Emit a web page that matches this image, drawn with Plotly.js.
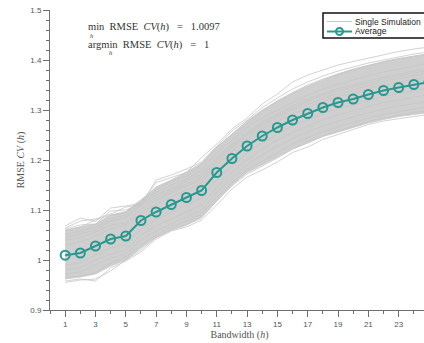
<!DOCTYPE html>
<html>
<head>
<meta charset="utf-8">
<script src="https://cdn.plot.ly/plotly-3.0.1.min.js"></script>
<style>
html,body{margin:0;padding:0;overflow:hidden;background:#fff;}
#chart{width:440px;height:343px;}
</style>
</head>
<body>
<div id="chart"></div>
<script>
// Bandwidth values
const bandwidth = [1,2,3,4,5,6,7,8,9,10,11,12,13,14,15,16,17,18,19,20,21,22,23,24,25];
// Average RMSE CV(h)
const average = [1.0097,1.014,1.028,1.042,1.048,1.079,1.096,1.111,1.125,1.139,1.175,1.203,1.228,1.248,1.265,1.280,1.293,1.305,1.315,1.322,1.331,1.339,1.345,1.351,1.356];
// dense region of the simulation bundle
const bundleHigh = [1.060,1.066,1.072,1.090,1.097,1.120,1.146,1.160,1.176,1.194,1.226,1.252,1.278,1.300,1.318,1.334,1.348,1.360,1.372,1.382,1.390,1.397,1.403,1.408,1.412];
const bundleLow  = [0.962,0.966,0.972,0.988,1.000,1.024,1.045,1.060,1.070,1.086,1.118,1.150,1.175,1.190,1.206,1.222,1.234,1.247,1.256,1.265,1.274,1.281,1.287,1.291,1.295];
// individual simulation curves
const sim01 = [1.068,1.084,1.077,1.104,1.108,1.114,1.155,1.165,1.175,1.205,1.232,1.262,1.284,1.312,1.332,1.356,1.370,1.380,1.390,1.397,1.404,1.410,1.417,1.422,1.426];
const sim02 = [1.062,1.070,1.072,1.098,1.100,1.112,1.140,1.158,1.168,1.190,1.225,1.250,1.272,1.296,1.318,1.335,1.350,1.362,1.372,1.380,1.388,1.396,1.402,1.408,1.412];
const sim03 = [1.058,1.066,1.080,1.090,1.094,1.120,1.135,1.150,1.162,1.180,1.215,1.240,1.265,1.285,1.300,1.316,1.330,1.342,1.352,1.360,1.368,1.376,1.382,1.388,1.393];
const sim04 = [1.050,1.058,1.066,1.082,1.090,1.112,1.130,1.142,1.158,1.172,1.205,1.232,1.255,1.276,1.292,1.308,1.322,1.333,1.343,1.350,1.358,1.366,1.372,1.378,1.383];
const sim05 = [1.040,1.044,1.056,1.070,1.074,1.102,1.120,1.134,1.148,1.160,1.196,1.224,1.248,1.268,1.285,1.300,1.312,1.323,1.333,1.340,1.349,1.357,1.363,1.369,1.374];
const sim06 = [1.030,1.036,1.048,1.062,1.070,1.095,1.112,1.126,1.140,1.154,1.190,1.218,1.242,1.262,1.278,1.292,1.305,1.317,1.327,1.334,1.343,1.350,1.356,1.362,1.366];
const sim07 = [0.990,0.994,1.010,1.024,1.030,1.062,1.080,1.096,1.110,1.124,1.160,1.188,1.214,1.234,1.252,1.268,1.281,1.293,1.303,1.310,1.319,1.327,1.333,1.339,1.344];
const sim08 = [0.980,0.985,1.000,1.012,1.020,1.050,1.068,1.082,1.096,1.110,1.146,1.176,1.200,1.222,1.240,1.255,1.268,1.280,1.290,1.298,1.307,1.315,1.320,1.326,1.331];
const sim09 = [0.972,0.976,0.990,1.004,1.012,1.040,1.058,1.072,1.086,1.100,1.136,1.165,1.190,1.210,1.228,1.243,1.256,1.268,1.278,1.286,1.295,1.302,1.308,1.313,1.318];
const sim10 = [0.965,0.968,0.975,0.994,1.006,1.030,1.050,1.066,1.078,1.092,1.126,1.155,1.180,1.198,1.215,1.232,1.244,1.257,1.266,1.275,1.284,1.291,1.297,1.302,1.306];
const sim11 = [0.958,0.962,0.958,0.984,0.998,1.016,1.042,1.058,1.066,1.080,1.110,1.142,1.166,1.180,1.196,1.215,1.226,1.241,1.251,1.261,1.271,1.278,1.283,1.287,1.291];
const sim12 = [0.955,0.960,0.962,0.978,1.000,1.020,1.045,1.060,1.070,1.084,1.118,1.148,1.172,1.188,1.204,1.222,1.234,1.248,1.258,1.268,1.277,1.284,1.290,1.295,1.299];
const sim13 = [1.064,1.078,1.082,1.092,1.106,1.110,1.160,1.170,1.182,1.196,1.228,1.258,1.280,1.305,1.324,1.342,1.356,1.368,1.378,1.386,1.394,1.400,1.406,1.412,1.416];
const sim14 = [1.045,1.052,1.060,1.078,1.085,1.108,1.125,1.138,1.152,1.166,1.200,1.228,1.252,1.272,1.289,1.304,1.318,1.329,1.339,1.346,1.354,1.362,1.368,1.374,1.379];
const simulations = [sim01,sim02,sim03,sim04,sim05,sim06,sim07,sim08,sim09,sim10,sim11,sim12,sim13,sim14];
const xTickVals = [1,3,5,7,9,11,13,15,17,19,21,23];
const yTickVals = [0.9,1,1.1,1.2,1.3,1.4,1.5];
const yTickText = ['0.9','1','1.1','1.2','1.3','1.4','1.5'];

const grayLine = '#c6c6c6';
const grayFill = '#cfcfcf';
const teal = '#2b9890';
const axisCol = '#6e6e6e';

const traces = [];
traces.push({x: bandwidth, y: bundleLow, mode:'lines', line:{color:grayLine, width:0.8}, hoverinfo:'skip', showlegend:false});
traces.push({x: bandwidth, y: bundleHigh, mode:'lines', fill:'tonexty', fillcolor:grayFill, line:{color:grayLine, width:0.8}, hoverinfo:'skip', showlegend:false});
simulations.forEach(s => traces.push({x: bandwidth, y: s, mode:'lines', line:{color:grayLine, width:0.8}, hoverinfo:'skip', showlegend:false}));
traces.push({x: bandwidth, y: average, mode:'lines+markers', line:{color:teal, width:2},
  marker:{symbol:'circle-open', size:9, color:teal, line:{width:2, color:teal}}, showlegend:false});

const serif = '"Liberation Serif", "DejaVu Serif", serif';
const sans = '"Liberation Sans", Arial, sans-serif';
const pw = 379, ph = 300, ml = 50, mt = 10;
const px = v => (v - ml) / pw;
const py = v => 1 - (v - mt) / ph;

const layout = {
  width: 440, height: 343,
  margin: {l: ml, r: 440 - ml - pw, t: mt, b: 343 - mt - ph},
  paper_bgcolor: '#fff', plot_bgcolor: '#fff',
  showlegend: false,
  xaxis: {
    range: [0, 25], showgrid: false, zeroline: false,
    showline: true, linecolor: axisCol, linewidth: 1,
    tickmode: 'array', tickvals: xTickVals, ticks: 'outside', ticklen: 6, tickwidth: 1, tickcolor: axisCol,
    minor: {dtick: 1, tick0: 0, ticks: 'outside', ticklen: 3, tickcolor: axisCol, showgrid: false},
    tickfont: {family: sans, size: 8, color: '#555'},
    title: {text: 'Bandwidth (<i>h</i>)', font: {family: serif, size: 10, color: '#555'}, standoff: 3}
  },
  yaxis: {
    range: [0.9, 1.5], showgrid: false, zeroline: false,
    showline: true, linecolor: axisCol, linewidth: 1,
    tickmode: 'array', tickvals: yTickVals, ticktext: yTickText, ticks: 'outside', ticklen: 6, tickwidth: 1, tickcolor: axisCol,
    minor: {dtick: 0.02, tick0: 0.9, ticks: 'outside', ticklen: 3, tickcolor: axisCol, showgrid: false},
    tickfont: {family: sans, size: 8, color: '#555'},
    title: {text: 'RMSE <i>CV</i> (<i>h</i>)', font: {family: serif, size: 10, color: '#555'}, standoff: 3}
  },
  shapes: [
    {type:'rect', xref:'paper', yref:'paper', x0: px(323), x1: px(428), y0: py(38), y1: py(13), fillcolor:'#fff', line:{color:'#111', width:1.5}, layer:'above'},
    {type:'line', xref:'paper', yref:'paper', x0: px(327), x1: px(352), y0: py(21.5), y1: py(21.5), line:{color:grayLine, width:1}, layer:'above'},
    {type:'line', xref:'paper', yref:'paper', x0: px(327), x1: px(352), y0: py(31.5), y1: py(31.5), line:{color:teal, width:2}, layer:'above'},
    {type:'circle', xref:'paper', yref:'paper', x0: px(336), x1: px(343), y0: py(35), y1: py(28), fillcolor:'rgba(0,0,0,0)', line:{color:teal, width:2}, layer:'above'}
  ],
  annotations: [
    {xref:'paper', yref:'paper', x: px(354), y: py(21.5), xanchor:'left', yanchor:'middle', showarrow:false, borderpad:0, text:'Single Simulation', font:{family:sans, size:8.5, color:'#222'}},
    {xref:'paper', yref:'paper', x: px(354), y: py(31.5), xanchor:'left', yanchor:'middle', showarrow:false, borderpad:0, text:'Average', font:{family:sans, size:8.5, color:'#222'}},
    {xref:'paper', yref:'paper', x: px(87), y: py(27), xanchor:'left', yanchor:'middle', showarrow:false, borderpad:0, text:'min&nbsp; RMSE&nbsp; <i>CV</i>(<i>h</i>)&nbsp;&nbsp; =&nbsp;&nbsp; 1.0097', font:{family:serif, size:10.5, color:'#333'}},
    {xref:'paper', yref:'paper', x: px(91), y: py(35), xanchor:'center', yanchor:'middle', showarrow:false, borderpad:0, text:'<i>h</i>', font:{family:serif, size:6.5, color:'#333'}},
    {xref:'paper', yref:'paper', x: px(87), y: py(45), xanchor:'left', yanchor:'middle', showarrow:false, borderpad:0, text:'argmin&nbsp; RMSE&nbsp; <i>CV</i>(<i>h</i>)&nbsp;&nbsp; =&nbsp;&nbsp; 1', font:{family:serif, size:10.5, color:'#333'}},
    {xref:'paper', yref:'paper', x: px(110), y: py(53), xanchor:'center', yanchor:'middle', showarrow:false, borderpad:0, text:'<i>h</i>', font:{family:serif, size:6.5, color:'#333'}}
  ]
};

Plotly.newPlot('chart', traces, layout, {staticPlot: true, displayModeBar: false});
</script>
</body>
</html>
